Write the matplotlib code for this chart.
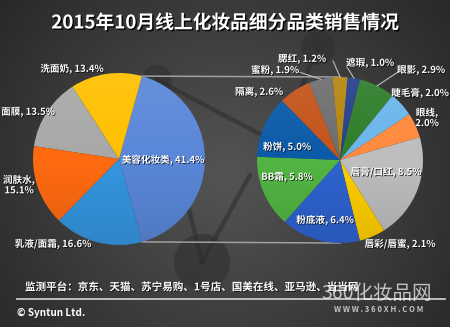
import numpy as np
import matplotlib
matplotlib.use("Agg")
import matplotlib.pyplot as plt
import matplotlib.patheffects as pe
from matplotlib.patches import Circle

plt.rcParams['font.family'] = ['Noto Sans CJK SC', 'DejaVu Sans']

# ---- data -------------------------------------------------------------
title = "2015年10月线上化妆品细分品类销售情况"

main_names = ["美容化妆类", "洗面奶", "面膜", "润肤水", "乳液/面霜"]
main_values = [41.4, 13.4, 13.5, 15.1, 16.6]

sub_names = ["唇膏/口红", "唇彩/唇蜜", "粉底液", "BB霜", "粉饼", "隔离",
             "蜜粉", "腮红", "遮瑕", "眼影", "睫毛膏", "眼线"]
sub_values = [8.5, 2.1, 6.4, 5.8, 5.0, 2.6, 1.9, 1.2, 1.0, 2.9, 2.0, 2.0]

source_text = "监测平台：京东、天猫、苏宁易购、1号店、国美在线、亚马逊、当当网"
credit_text = "© Syntun Ltd."

# ---- styles -----------------------------------------------------------
main_colors = ["#5A87D8", "#FFC000", "#A8A8A8", "#FF6A10", "#3596E0"]
sub_colors = ["#BEBEBE", "#FFCF00", "#2E63CF", "#52B543", "#0B5AA8", "#C4531A",
              "#6E6E6E", "#B5850F", "#253F8C", "#2E7D2A", "#6BB6EC", "#FF8A3D"]

W, H = 450, 327


def Y(y):
    return H - y


# label anchors (pixel space, y measured from top)
main_label_pos = {
    "美容化妆类": (163, 160), "洗面奶": (72, 69), "面膜": (28, 112),
    "润肤水": (19, 185), "乳液/面霜": (53, 244),
}
sub_label_pos = {
    "唇膏/口红": (386, 172), "唇彩/唇蜜": (400, 244), "粉底液": (325, 220),
    "BB霜": (287, 177), "粉饼": (287, 147), "隔离": (259, 92),
    "蜜粉": (275, 70), "腮红": (302, 59), "遮瑕": (370, 63),
    "眼影": (421, 70), "睫毛膏": (420, 93), "眼线": (427, 118),
}
multiline = {"润肤水", "眼线"}
leader_start = {"腮红": (333, 61), "遮瑕": (347, 67), "眼影": (398, 72),
                "蜜粉": (299, 72)}

fig = plt.figure(figsize=(W / 100, H / 100), dpi=100)
ax = fig.add_axes([0, 0, 1, 1])

# ---- background: dark radial gradient --------------------------------
gx, gy = np.meshgrid(np.arange(W), np.arange(H))
d = np.hypot(gx - 225, gy - 175) / 300.0
d = np.clip(d, 0, 1)
inner, outer = np.array([0.33, 0.33, 0.33]), np.array([0.15, 0.15, 0.15])
bg = inner[None, None, :] * (1 - d[..., None]) + outer[None, None, :] * d[..., None]
ax.imshow(bg, extent=(0, W, 0, H), origin="upper", zorder=0, interpolation="bilinear")

# decorative network of nodes and links
deco = dict(color="#2c2c2c", alpha=0.55, lw=3.2, solid_capstyle="round", zorder=1)
for (x1, y1), (x2, y2) in [((157, 80), (202, 262)), ((157, 80), (300, 155)),
                           ((202, 262), (250, 175)), ((318, 48), (300, 90))]:
    ax.plot([x1, x2], [Y(y1), Y(y2)], **deco)
for (cx, cy, r) in [(157, 80, 15), (122, 180, 20), (202, 262, 28),
                    (318, 48, 17), (318, 135, 15)]:
    ax.add_patch(Circle((cx, Y(cy)), r, facecolor="#2e2e2e", alpha=0.55,
                        edgecolor="none", zorder=1))

# ---- pies -------------------------------------------------------------
c_main, r_main = (119, Y(159)), 86
c_sub, r_sub = (340, Y(160)), 83

main_start = -180 * main_values[0] / sum(main_values)
wm, _ = ax.pie(main_values, colors=main_colors, startangle=main_start,
               counterclock=True, center=c_main, radius=r_main,
               wedgeprops=dict(linewidth=0), frame=True)
ws, _ = ax.pie(sub_values, colors=sub_colors, startangle=16,
               counterclock=False, center=c_sub, radius=r_sub,
               wedgeprops=dict(linewidth=0), frame=True)
for w in wm + ws:
    w.set_zorder(3)

# soft vertical shading over each pie
for (cx, cy), r in [(c_main, r_main), (c_sub, r_sub)]:
    t = np.linspace(0, 1, 200)[:, None]
    shade = np.zeros((200, 2, 4))
    light = np.clip(0.5 - t, 0, None) * 0.16
    dark = np.clip(t - 0.5, 0, None) * 0.22
    shade[..., :3] = np.where(t[..., None] < 0.5, 1.0, 0.0)
    shade[..., 3] = (light + dark)
    im = ax.imshow(shade, extent=(cx - r, cx + r, cy - r, cy + r), origin="upper",
                   zorder=4, interpolation="bilinear", aspect="auto")
    clip = Circle((cx, cy), r, transform=ax.transData)
    im.set_clip_path(clip)

# connector lines between the two pies
theta_top = np.deg2rad(wm[0].theta2)
theta_bot = np.deg2rad(wm[0].theta1)
for th, yy in [(theta_top, c_sub[1] + r_sub), (theta_bot, c_sub[1] - r_sub)]:
    x0 = c_main[0] + r_main * np.cos(th)
    y0 = c_main[1] + r_main * np.sin(th)
    ax.plot([x0, c_sub[0]], [y0, yy], color="#a0a0a0", lw=1.1, zorder=2)

# ---- labels -----------------------------------------------------------
shadow = [pe.withSimplePatchShadow(offset=(0.6, -0.6), shadow_rgbFace="black", alpha=0.8)]


def put_label(name, value, pos):
    sep = ",\n" if name in multiline else ", "
    ax.text(pos[0], Y(pos[1]), f"{name}{sep}{value:.1f}%", color="white",
            fontsize=6.9, fontweight="bold", ha="center", va="center",
            linespacing=1.0, zorder=6, path_effects=shadow)


for n, v in zip(main_names, main_values):
    put_label(n, v, main_label_pos[n])
for n, v in zip(sub_names, sub_values):
    put_label(n, v, sub_label_pos[n])

# leader lines for the narrow slices
for w, n in zip(ws, sub_names):
    if n in leader_start:
        mid = np.deg2rad((w.theta1 + w.theta2) / 2)
        ex = c_sub[0] + r_sub * np.cos(mid)
        ey = c_sub[1] + r_sub * np.sin(mid)
        sx, sy = leader_start[n]
        ax.plot([sx, ex], [Y(sy), ey], color="#bdbdbd", lw=0.8, zorder=5)

# ---- title and footer -------------------------------------------------
ax.text(225, Y(23), title, color="white", fontsize=13.5, fontweight="bold",
        ha="center", va="center", zorder=6,
        path_effects=[pe.withSimplePatchShadow(offset=(1, -1), shadow_rgbFace="black", alpha=0.9)])

ax.text(25, Y(287), source_text, color="white", fontsize=7.6, fontweight="bold",
        ha="left", va="center", zorder=6, path_effects=shadow)
ax.plot([17, 445], [Y(298.5), Y(298.5)], color="#c8c8c8", lw=1.3, zorder=5)
ax.text(17, Y(313), credit_text, color="white", fontsize=7.2, fontweight="bold",
        ha="left", va="center", zorder=6)

# site mark in the lower right
ax.text(321, Y(293), "360化妆品网", color="white", alpha=0.7, fontsize=14,
        ha="left", va="center", zorder=7)
ax.text(379, Y(309), "W W W . 3 6 0 X H . C O M", color="white", alpha=0.7,
        fontsize=5.6, fontweight="bold", ha="center", va="center", zorder=7)

ax.set_xlim(0, W)
ax.set_ylim(0, H)
ax.set_aspect("auto")
ax.axis("off")

fig.savefig("out.png", dpi=100)
